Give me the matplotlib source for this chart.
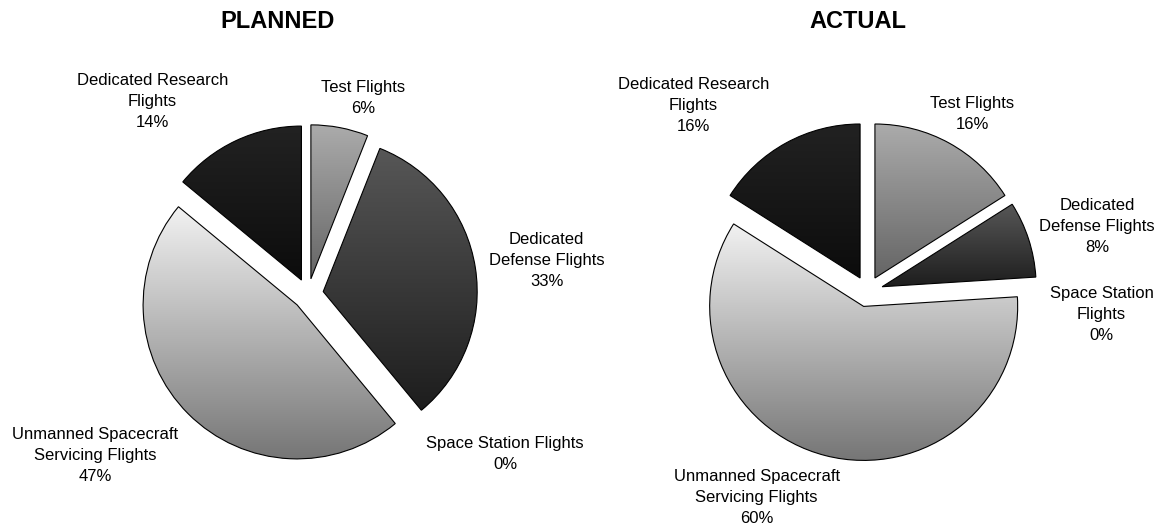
#!/usr/bin/env python3

import sys

import numpy as np
from matplotlib import pyplot
from matplotlib.colors import LinearSegmentedColormap


CATEGORIES = (
    "Test Flights",
    "Dedicated Defense Flights",
    "Space Station Flights",
    "Unmanned Spacecraft Servicing Flights",
    "Dedicated Research Flights",
)

PLANNED = [6, 33, 0, 47, 14]
ACTUAL = [16, 8, 0, 60, 16]

# Wrapped label text as it is drawn on each pie
PLANNED_LABELS = [
    "Test Flights",
    "Dedicated\nDefense Flights",
    "Space Station Flights",
    "Unmanned Spacecraft\nServicing Flights",
    "Dedicated Research\nFlights",
]
ACTUAL_LABELS = [
    "Test Flights",
    "Dedicated\nDefense Flights",
    "Space Station\nFlights",
    "Unmanned Spacecraft\nServicing Flights",
    "Dedicated Research\nFlights",
]

# Top / bottom shades of the vertical fill on each slice
SHADES = (
    ('#ababab', '#656565'),
    ('#575757', '#1d1d1d'),
    ('#ffffff', '#cccccc'),
    ('#f2f2f2', '#767676'),
    ('#222222', '#0c0c0c'),
)

# Label centres, in pie radii from the pie centre
PLANNED_LABEL_XY = [(0.36, 1.27), (1.55, 0.22), (1.28, -1.04), (-1.38, -1.05), (-1.01, 1.25)]
ACTUAL_LABEL_XY = [(0.68, 1.15), (1.49, 0.42), (1.52, -0.15), (-0.72, -1.34), (-1.13, 1.21)]

FONT = "Liberation Sans"
WIDTH, HEIGHT = 1160, 529
RADIUS_PX = 154


def shade_wedge(axes, wedge, top, bottom):
    x0, y0, x1, y1 = wedge.get_path().get_extents().extents
    cmap = LinearSegmentedColormap.from_list("shade", [top, bottom])
    ramp = np.linspace(0, 1, 256).reshape(-1, 1)
    image = axes.imshow(ramp, cmap=cmap, extent=(x0, x1, y0, y1),
                        origin="upper", aspect="auto", zorder=0.5)
    image.set_clip_path(wedge)
    wedge.set_facecolor("none")


def plot_pie(axes, values, labels, label_xy, centre_px, half_width_px):
    wedges, _ = axes.pie(
        values, explode=[0.1] * len(values), startangle=90,
        counterclock=False, normalize=True,
        wedgeprops=dict(edgecolor="black", linewidth=0.8),
    )
    for wedge, value, (top, bottom) in zip(wedges, values, SHADES):
        if value == 0:
            wedge.set_visible(False)
            continue
        shade_wedge(axes, wedge, top, bottom)

    for text, value, (x, y) in zip(labels, values, label_xy):
        axes.text(x, y, f"{text}\n{value:.0f}%", ha="center", va="center",
                  multialignment="center", fontsize=12, family=FONT,
                  linespacing=1.5)

    # Fix data limits so one radius spans RADIUS_PX pixels
    cx, cy = centre_px
    axes.set_xlim(-cx / RADIUS_PX, (half_width_px - cx) / RADIUS_PX)
    axes.set_ylim(-(HEIGHT - cy) / RADIUS_PX, cy / RADIUS_PX)
    axes.set_aspect("auto")
    axes.axis("off")


def main() -> int:
    figure = pyplot.figure(figsize=(WIDTH / 100, HEIGHT / 100), dpi=100)
    half = WIDTH / 2
    left = figure.add_axes([0, 0, 0.5, 1])
    right = figure.add_axes([0.5, 0, 0.5, 1])

    plot_pie(left, PLANNED, PLANNED_LABELS, PLANNED_LABEL_XY, (308, 294), half)
    plot_pie(right, ACTUAL, ACTUAL_LABELS, ACTUAL_LABEL_XY, (287.5, 291.5), half)

    figure.text(278 / WIDTH, 1 - 21 / HEIGHT, "PLANNED", ha="center", va="center",
                fontsize=17, fontweight="bold", family=FONT)
    figure.text(858 / WIDTH, 1 - 21 / HEIGHT, "ACTUAL", ha="center", va="center",
                fontsize=17, fontweight="bold", family=FONT)

    figure.savefig("out.png", dpi=100)
    return 0


if __name__ == '__main__':
    sys.exit(main())
